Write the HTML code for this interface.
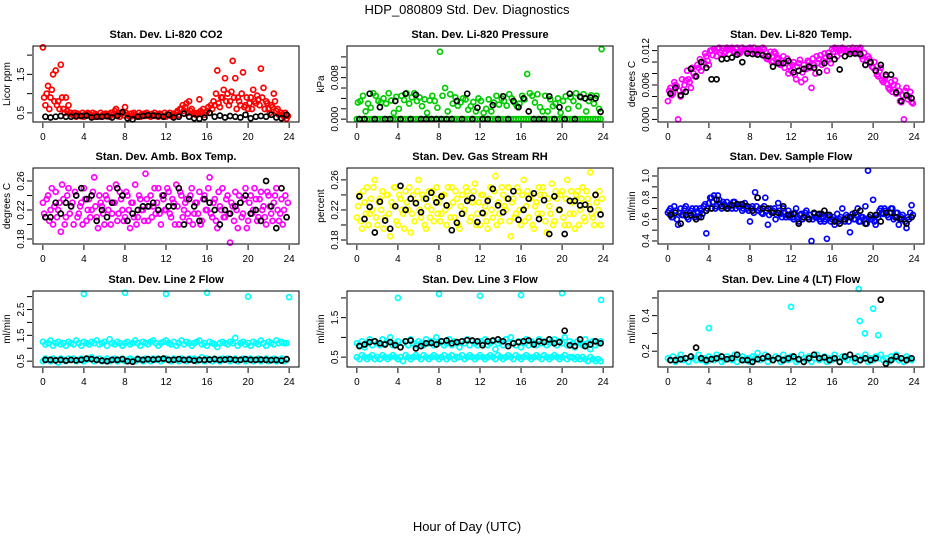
<!DOCTYPE html>
<html><head><meta charset="utf-8"><title>HDP_080809 Std. Dev. Diagnostics</title>
<style>
html,body{margin:0;padding:0;background:#fff;}
svg{display:block;font-family:"Liberation Sans",Arial,sans-serif;}
</style></head>
<body>
<svg id="chart" width="936" height="540" viewBox="0 0 936 540">
<rect width="936" height="540" fill="#fff"/>
<text x="467" y="14" text-anchor="middle" font-size="13">HDP_080809  Std. Dev. Diagnostics</text>
<text x="467" y="531" text-anchor="middle" font-size="13">Hour of Day (UTC)</text>
<g id="panels"></g>
</svg>
<script>
// ---- x tick labels (hours) ----
const hourTicks = [0,4,8,12,16,20,24];

// ---- Panel 1: Li-820 CO2 (ppm) ----
const co2Red = [2.2,0.7,1.2,0.9,1.5,1.6,0.8,1.75,0.6,0.9,0.7,0.5,
0.45,0.4,0.45,0.42,0.4,0.45,0.48,0.42,0.4,0.44,0.4,0.43,
0.42,0.45,0.4,0.5,0.55,0.45,0.4,0.5,0.65,0.45,0.4,0.42,
0.45,0.42,0.4,0.44,0.42,0.45,0.4,0.43,0.42,0.4,0.45,0.42,
0.4,0.45,0.42,0.48,0.5,0.45,0.6,0.55,0.75,0.8,0.6,0.5,
0.45,0.85,0.5,0.45,0.55,0.5,0.6,0.7,1.6,0.65,0.9,1.4,
1.0,0.8,1.85,1.4,0.9,0.7,1.55,0.7,0.6,0.9,1.1,0.75,
0.85,1.65,1.15,0.8,0.6,0.7,1.0,0.55,0.45,0.5,0.4,0.35];
const co2Red2 = [0.9,1.0,0.6,1.1,0.8,0.7,0.6,0.9,0.5,0.55,0.5,0.45,
0.5,0.48,0.42,0.5,0.46,0.5,0.44,0.5,0.47,0.42,0.5,0.45,
0.48,0.42,0.5,0.46,0.6,0.5,0.48,0.44,0.5,0.42,0.48,0.5,
0.42,0.5,0.46,0.48,0.5,0.42,0.47,0.5,0.45,0.48,0.42,0.5,
0.46,0.5,0.44,0.42,0.55,0.6,0.7,0.65,0.5,0.55,0.48,0.45,
0.5,0.55,0.6,0.5,0.65,0.7,0.8,1.0,0.75,0.9,1.1,0.8,
0.7,1.05,0.9,0.6,0.8,1.0,0.65,0.9,0.75,0.6,0.8,0.95,
0.7,0.9,0.6,0.75,0.5,0.65,0.8,0.6,0.5,0.45,0.5,0.42];
const co2Black = [0.4,0.38,0.4,0.42,0.4,0.4,0.42,0.42,0.43,0.38,0.4,0.4,0.41,0.38,0.42,0.52,0.36,0.33,0.4,0.42,0.44,0.43,0.42,0.4,0.45,0.38,0.4,0.48,0.4,0.36,0.35,0.38,0.5,0.4,0.43,0.38,0.42,0.4,0.38,0.45,0.36,0.4,0.42,0.4,0.45,0.38,0.36,0.45];
const co2Ticks = [0.5,1.0,1.5,2.0];
const co2Labels = ["0.5","","1.5",""];

// ---- Panel 2: Li-820 Pressure (kPa x 0.001) ----
const presGreen = [3.2,3.5,4.5,1.5,3,2.2,5,4.5,3.5,3.2,4,3,
5,3.6,1.2,4.3,2,4.5,3.7,5,3,4.2,5,3.5,
4.2,2.5,3.8,1.2,3.6,4.5,3.5,2.2,13,4.5,6,1.5,
4.8,3,4.2,2.6,3.2,4,3.8,1.8,2.5,3.3,1.5,4,
3.5,1.2,2,3.8,1.5,3.2,4.5,2.8,4,3.5,2.6,4.8,
4,3.2,2.5,3,4.5,3.8,8.7,5,4.5,3.2,4.8,2.3,
1.5,4.5,1.5,3.8,2.5,3,4,1.2,3.5,4.4,2,4.2,
3.5,5,2.5,4.2,4.8,1.5,3.5,4.6,3,4.5,2,13.5];
const presGreenZero = [0,0,0,0,0,0,0,0,0,0,0,0,0,0,0,0,0,0,0,0,0,0,0,0,0,0,0,0,0,0,0,0,0,0,0,0,0,0,0,0,0,0,0,0,0,0,0,0,0,0,0,0,0,0,0,0,0,0,0,0,0,0,0,0,0,0,0,0,0,0,0,0,0,0,0,0,0,0,0,0,0,0,0,0,0,0,0,0,0,0,0,0,0,0,0,0];
const presBlack = [0,0,4.9,0,2.3,0,0,3.5,0,4.9,0,4.7,0,0,0,0,0,0,0,3.5,0,4.9,0,2.2,0,0,2.7,0,4.4,0,3.5,2.3,4,1.5,0,0,0,4.4,0,2.3,0,4.9,0,4.3,4,4.2,4,1.4];
const presTicks = [0,2,4,6,8,10,12];
const presLabels = ["0.000","","","","0.008","",""];

// ---- Panel 3: Li-820 Temp (degC x 0.001) ----
const tempPink = [3.2,5.5,4.5,6,0,4,5.2,6.8,7,5.5,8,7.5,
9,8.5,10,11,9.5,12,12.3,11,12.5,12,11.5,12.5,
12.3,12.5,11.8,12.5,11.5,12.5,12.2,11.8,12.5,12,11.5,12.3,
12,12.5,11,10.5,11.8,10.2,11.5,10.5,9.5,11,9.8,8,
8.5,10,7,9.8,6.5,9.5,8.8,10,5.5,9.5,11,10.5,
9.5,11.5,8.5,10.5,12.2,12.5,11,12,12.5,12.3,12,11.8,
12.5,12,11.5,12.5,10.5,9.5,11,9.8,9,8.5,7.5,9,
6.5,7.5,5.5,6.5,6,4.5,5,3,0,5.5,4,3];
const tempPink2 = [5,4.2,6.5,5.8,5,7,6,8.5,6.5,9,7.5,9.5,
10.5,9.2,11.5,10.2,12,11.2,12,12.3,11.6,12.4,11.8,12.2,
12.4,11.9,12.3,11.6,12.4,12.1,11.9,12.4,12.2,12.5,11.8,12.1,
11.5,12.2,10.6,11.2,10,11.8,10.8,9.6,10.2,9,10.6,9.2,
9.5,7.8,9.2,10.4,8.2,7,10.2,9,10.6,8,9.8,11.2,
10.2,10.8,11.6,9.8,11.8,12.3,12.4,11.5,12.2,11.9,12.4,12.1,
11.8,12.4,12.2,11,11.6,10.2,10.6,9.2,10,7.8,8.4,6.8,
7,6.2,5.2,4.8,6.8,5.8,3.2,4.2,5,3.5,4.8,2.8];
const tempBlack = [4.5,5.5,4.2,4.8,8.8,7.5,10,9,7,7,10.5,10.6,10.8,11.3,10,11.5,11.4,11.3,11.2,11,9.2,9.8,9.8,10.2,8.2,8.5,8.8,9.2,9,8.2,9.8,11,10.5,8.7,11,11.4,11.5,11.4,9.5,10,8.5,9.5,7.8,7.8,4.7,3.2,4.2,3.7];
const tempTicks = [0,2,4,6,8,10,12];
const tempLabels = ["0.000","","","0.006","","","0.012"];

// ---- Panel 4: Amb. Box Temp (degC) ----
const boxPink = [0.23,0.21,0.24,0.22,0.20,0.245,0.22,0.19,0.235,0.21,0.25,0.225,
0.20,0.24,0.215,0.23,0.25,0.205,0.235,0.22,0.265,0.21,0.24,0.225,
0.20,0.235,0.25,0.215,0.23,0.205,0.245,0.22,0.21,0.24,0.195,0.23,
0.255,0.21,0.235,0.22,0.27,0.205,0.24,0.225,0.215,0.25,0.20,0.235,
0.22,0.245,0.21,0.23,0.255,0.20,0.24,0.22,0.235,0.205,0.25,0.215,
0.23,0.245,0.205,0.24,0.22,0.265,0.21,0.235,0.195,0.225,0.25,0.21,
0.24,0.175,0.225,0.245,0.195,0.23,0.215,0.25,0.205,0.24,0.22,0.235,
0.21,0.245,0.225,0.20,0.24,0.215,0.23,0.25,0.205,0.235,0.22,0.21];
const boxPink2 = [0.215,0.235,0.205,0.25,0.225,0.21,0.23,0.255,0.2,0.24,0.215,0.23,
0.245,0.21,0.225,0.2,0.235,0.22,0.21,0.245,0.225,0.195,0.23,0.215,
0.24,0.22,0.2,0.23,0.255,0.215,0.235,0.205,0.245,0.22,0.23,0.21,
0.2,0.24,0.22,0.205,0.235,0.225,0.21,0.25,0.23,0.215,0.24,0.22,
0.25,0.215,0.235,0.2,0.225,0.245,0.21,0.23,0.215,0.24,0.2,0.23,
0.215,0.2,0.235,0.22,0.25,0.215,0.23,0.205,0.245,0.22,0.21,0.235,
0.215,0.23,0.205,0.22,0.24,0.21,0.235,0.195,0.23,0.215,0.25,0.205,
0.235,0.22,0.21,0.245,0.225,0.205,0.24,0.22,0.215,0.2,0.24,0.23];
const boxBlack = [0.21,0.21,0.23,0.215,0.23,0.225,0.24,0.25,0.235,0.24,0.205,0.22,0.21,0.23,0.25,0.24,0.205,0.215,0.22,0.225,0.225,0.23,0.22,0.24,0.225,0.225,0.25,0.20,0.235,0.225,0.205,0.235,0.23,0.22,0.20,0.22,0.215,0.225,0.23,0.24,0.215,0.22,0.205,0.26,0.225,0.195,0.25,0.21];
const boxTicks = [0.18,0.20,0.22,0.24,0.26];
const boxLabels = ["0.18","","0.22","","0.26"];

// ---- Panel 5: Gas Stream RH (percent) ----
const rhYellow = [0.21,0.24,0.195,0.23,0.25,0.215,0.22,0.26,0.20,0.235,0.245,0.21,
0.24,0.185,0.225,0.25,0.20,0.235,0.215,0.245,0.22,0.19,0.24,0.23,
0.26,0.21,0.235,0.195,0.245,0.22,0.205,0.25,0.23,0.215,0.24,0.20,
0.225,0.25,0.21,0.235,0.195,0.24,0.22,0.245,0.205,0.23,0.255,0.215,
0.20,0.24,0.225,0.195,0.25,0.21,0.265,0.23,0.205,0.24,0.22,0.25,
0.185,0.235,0.215,0.245,0.20,0.26,0.225,0.21,0.24,0.195,0.23,0.25,
0.215,0.24,0.19,0.225,0.255,0.205,0.235,0.22,0.245,0.20,0.26,0.215,
0.23,0.195,0.245,0.22,0.25,0.205,0.235,0.27,0.21,0.24,0.22,0.20];
const rhYellow2 = [0.225,0.205,0.245,0.215,0.2,0.235,0.25,0.21,0.23,0.22,0.195,0.24,
0.215,0.23,0.25,0.205,0.24,0.22,0.195,0.23,0.25,0.215,0.205,0.245,
0.22,0.24,0.2,0.225,0.21,0.245,0.235,0.215,0.205,0.24,0.22,0.25,
0.21,0.23,0.245,0.2,0.225,0.215,0.25,0.235,0.21,0.245,0.2,0.23,
0.24,0.215,0.205,0.235,0.22,0.245,0.2,0.215,0.25,0.225,0.235,0.205,
0.23,0.21,0.25,0.22,0.24,0.205,0.245,0.235,0.2,0.225,0.215,0.24,
0.25,0.205,0.235,0.215,0.2,0.245,0.22,0.24,0.21,0.235,0.2,0.245,
0.215,0.24,0.2,0.235,0.21,0.245,0.225,0.215,0.2,0.23,0.245,0.235];
const rhBlack = [0.238,0.208,0.224,0.190,0.231,0.206,0.195,0.225,0.252,0.220,0.235,0.229,0.217,0.235,0.243,0.230,0.238,0.226,0.193,0.203,0.215,0.232,0.236,0.204,0.216,0.232,0.248,0.226,0.217,0.235,0.245,0.207,0.220,0.235,0.242,0.208,0.233,0.188,0.238,0.220,0.188,0.232,0.232,0.226,0.227,0.221,0.240,0.214];
const rhTicks = [0.18,0.20,0.22,0.24,0.26];
const rhLabels = ["0.18","","0.22","","0.26"];

// ---- Panel 6: Sample Flow (ml/min) ----
const sfBlue = [0.66,0.7,0.62,0.68,0.55,0.7,0.64,0.72,0.6,0.68,0.65,0.7,
0.62,0.68,0.72,0.47,0.75,0.8,0.82,0.72,0.78,0.7,0.74,0.76,
0.72,0.7,0.76,0.74,0.72,0.68,0.75,0.7,0.58,0.72,0.85,0.8,
0.7,0.65,0.8,0.55,0.7,0.68,0.6,0.75,0.65,0.7,0.62,0.68,
0.65,0.6,0.7,0.58,0.65,0.62,0.68,0.6,0.4,0.65,0.62,0.6,
0.65,0.58,0.42,0.62,0.6,0.55,0.65,0.6,0.7,0.58,0.62,0.48,
0.65,0.6,0.7,0.58,0.62,0.72,1.05,0.6,0.78,0.55,0.62,0.7,
0.65,0.68,0.62,0.7,0.6,0.66,0.55,0.62,0.6,0.52,0.6,0.73];
const sfBlue2 = [0.68,0.62,0.72,0.6,0.66,0.64,0.7,0.62,0.66,0.7,0.62,0.67,
0.7,0.65,0.74,0.7,0.8,0.76,0.7,0.82,0.74,0.76,0.72,0.7,
0.74,0.76,0.7,0.72,0.74,0.7,0.72,0.68,0.7,0.66,0.72,0.68,
0.66,0.72,0.68,0.64,0.66,0.7,0.64,0.68,0.62,0.66,0.64,0.62,
0.62,0.66,0.6,0.64,0.6,0.66,0.62,0.64,0.6,0.62,0.64,0.58,
0.62,0.6,0.64,0.58,0.62,0.6,0.58,0.62,0.6,0.64,0.58,0.62,
0.6,0.64,0.58,0.62,0.6,0.56,0.62,0.6,0.58,0.64,0.68,0.66,
0.7,0.64,0.66,0.7,0.62,0.66,0.6,0.64,0.58,0.62,0.66,0.64];
const sfBlack = [0.64,0.66,0.56,0.64,0.64,0.6,0.62,0.68,0.7,0.78,0.72,0.7,0.73,0.74,0.74,0.72,0.68,0.8,0.7,0.7,0.66,0.66,0.72,0.64,0.65,0.56,0.62,0.6,0.66,0.65,0.68,0.64,0.58,0.56,0.6,0.62,0.66,0.68,0.56,0.64,0.64,0.58,0.66,0.66,0.62,0.6,0.56,0.62];
const sfTicks = [0.4,0.5,0.6,0.7,0.8,0.9,1.0];
const sfLabels = ["0.4","","0.6","","0.8","","1.0"];

// ---- Panel 7: Line 2 Flow ----
const l2Upper = [1.25,1.15,1.2,1.3,1.1,1.2,1.25,1.15,1.2,1.1,1.25,1.2,
1.15,1.3,1.2,1.1,1.25,1.2,1.15,1.25,1.2,1.3,1.15,1.2,
1.25,1.1,1.35,1.2,1.15,1.25,1.2,1.1,1.2,1.25,1.15,1.2,
1.3,1.2,1.1,1.25,1.2,1.15,1.25,1.3,1.2,1.1,1.2,1.25,
1.3,1.2,1.15,1.25,1.1,1.2,1.3,1.15,1.25,1.2,1.1,1.2,
1.25,1.3,1.15,1.2,1.1,1.25,1.2,1.15,1.05,1.2,1.25,1.2,
1.15,1.25,1.2,1.4,1.1,1.2,1.25,1.15,1.2,1.1,1.25,1.2,
1.15,1.3,1.2,1.1,1.25,1.2,1.15,1.3,1.2,1.25,1.2,1.2];
const l2Lower = [0.5,0.6,0.55,0.5,0.6,0.55,0.45,0.6,0.55,0.5,0.6,0.55,
0.6,0.5,0.55,0.6,0.5,0.55,0.6,0.65,0.5,0.55,0.6,0.5,
0.55,0.6,0.5,0.55,0.6,0.5,0.55,0.6,0.5,0.55,0.6,0.55,
0.5,0.6,0.55,0.5,0.6,0.55,0.5,0.6,0.55,0.6,0.5,0.55,
0.6,0.55,0.5,0.6,0.55,0.5,0.6,0.55,0.5,0.6,0.55,0.6,
0.5,0.55,0.65,0.5,0.6,0.55,0.5,0.6,0.55,0.5,0.6,0.55,
0.6,0.5,0.55,0.6,0.5,0.55,0.6,0.5,0.55,0.6,0.5,0.55,
0.6,0.5,0.55,0.6,0.5,0.55,0.6,0.5,0.55,0.6,0.5,0.55];
const l2OutT = [4,8,12,16,20,24];
const l2OutV = [3.1,3.15,3.1,3.15,3.0,2.98];
const l2Black = [0.55,0.55,0.53,0.55,0.52,0.55,0.53,0.55,0.6,0.58,0.55,0.52,0.5,0.55,0.55,0.58,0.5,0.48,0.58,0.55,0.58,0.56,0.58,0.6,0.55,0.55,0.58,0.55,0.56,0.52,0.55,0.55,0.56,0.58,0.55,0.56,0.58,0.55,0.55,0.58,0.55,0.55,0.56,0.55,0.54,0.55,0.52,0.58];
const l2Ticks = [0.5,1.0,1.5,2.0,2.5,3.0];
const l2Labels = ["0.5","","1.5","","2.5",""];

// ---- Panel 8: Line 3 Flow ----
const l3Upper = [0.85,0.8,0.9,0.75,0.85,0.95,0.8,0.9,0.85,0.8,0.95,0.85,
0.9,1.0,0.8,0.85,0.9,0.75,0.85,0.9,0.8,0.95,0.85,0.8,
0.9,0.85,0.8,0.95,0.85,0.9,0.8,1.0,0.85,0.9,0.8,0.85,
0.95,0.8,0.9,0.85,0.75,0.9,0.85,0.95,0.8,0.9,0.85,0.8,
0.9,0.85,0.95,0.8,0.85,0.9,0.7,0.85,0.9,0.8,0.95,0.85,
1.0,0.85,0.8,0.9,0.75,0.85,0.95,0.8,0.9,0.85,0.8,0.95,
0.85,0.9,0.8,0.85,0.9,0.95,0.8,0.9,0.85,1.0,0.8,0.9,
0.85,0.75,0.9,0.85,0.8,0.95,0.85,0.7,0.9,0.8,0.85,0.9];
const l3Lower = [0.5,0.45,0.55,0.5,0.45,0.5,0.55,0.45,0.5,0.45,0.55,0.5,
0.45,0.5,0.55,0.5,0.45,0.5,0.4,0.55,0.5,0.45,0.5,0.55,
0.5,0.45,0.55,0.5,0.45,0.5,0.55,0.5,0.45,0.5,0.55,0.45,
0.5,0.55,0.45,0.5,0.5,0.55,0.45,0.5,0.55,0.5,0.45,0.5,
0.55,0.5,0.45,0.5,0.55,0.5,0.45,0.55,0.5,0.45,0.5,0.55,
0.5,0.45,0.55,0.5,0.45,0.5,0.55,0.5,0.45,0.5,0.55,0.5,
0.45,0.55,0.5,0.45,0.5,0.55,0.5,0.45,0.5,0.55,0.45,0.5,
0.5,0.45,0.5,0.45,0.5,0.45,0.4,0.5,0.45,0.4,0.45,0.4];
const l3OutT = [4,8,12,16,20,23.8];
const l3OutV = [2.0,2.1,2.05,2.07,2.12,1.95];
const l3Black = [0.78,0.82,0.88,0.9,0.85,0.82,0.88,0.8,0.75,0.9,0.92,0.72,0.78,0.85,0.86,0.82,0.9,0.92,0.85,0.88,0.9,0.93,0.92,0.9,0.8,0.9,0.92,0.95,0.9,0.78,0.85,0.88,0.9,0.92,0.82,0.9,0.88,0.95,0.85,0.88,1.17,0.8,0.78,0.95,0.78,0.82,0.9,0.85];
const l3Ticks = [0.5,1.0,1.5,2.0];
const l3Labels = ["0.5","","1.5",""];

// ---- Panel 9: Line 4 (LT) Flow ----
const l4Cyan = [0.16,0.15,0.17,0.14,0.16,0.18,0.15,0.16,0.14,0.17,0.16,0.15,
0.18,0.15,0.16,0.14,0.17,0.16,0.15,0.18,0.16,0.14,0.15,0.17,
0.16,0.15,0.18,0.14,0.16,0.17,0.15,0.16,0.14,0.17,0.16,0.19,
0.15,0.16,0.18,0.14,0.16,0.15,0.17,0.16,0.14,0.18,0.16,0.15,
0.17,0.16,0.14,0.15,0.18,0.16,0.15,0.17,0.14,0.16,0.18,0.15,
0.16,0.17,0.14,0.16,0.15,0.18,0.16,0.14,0.17,0.16,0.15,0.18,
0.16,0.14,0.17,0.15,0.16,0.18,0.14,0.16,0.15,0.17,0.16,0.18,
0.15,0.16,0.14,0.17,0.16,0.18,0.15,0.16,0.14,0.17,0.16,0.15];
const l4OutT = [4,12,18.6,18.7,19.2,20,20.5];
const l4OutV = [0.33,0.45,0.55,0.37,0.3,0.44,0.29];
const l4Black = [0.15,0.15,0.155,0.16,0.17,0.22,0.16,0.15,0.155,0.16,0.17,0.155,0.16,0.18,0.15,0.15,0.14,0.155,0.16,0.17,0.15,0.16,0.15,0.16,0.17,0.155,0.14,0.16,0.18,0.16,0.165,0.15,0.16,0.14,0.17,0.18,0.16,0.15,0.16,0.15,0.16,0.49,0.13,0.15,0.17,0.16,0.15,0.16];
const l4Ticks = [0.2,0.3,0.4,0.5];
const l4Labels = ["0.2","","0.4",""];

// ---- layout ----
const SVGNS = "http://www.w3.org/2000/svg";
const colLeft = [33,347,658], colW = 266;
const rowTop = [46,168,291], rowH = 76;
const X0 = -0.96, X1 = 24.96;

function mk(tag, attrs, parent){
  const e = document.createElementNS(SVGNS, tag);
  for (const k in attrs) e.setAttribute(k, attrs[k]);
  parent.appendChild(e);
  return e;
}

const panels = [
 {name:"co2", title:"Stan. Dev. Li-820 CO2", ylab:"Licor ppm", col:0,row:0, y0:0.263,y1:2.237, ticks:co2Ticks, labels:co2Labels,
  series:[{v:co2Red,c:"#ff0000",step:0.25,off:0},{v:co2Red2,c:"#ff0000",step:0.25,off:0.125},{v:co2Black,c:"#000",step:0.5,off:0.25}]},
 {name:"pressure", title:"Stan. Dev. Li-820 Pressure", ylab:"kPa", col:1,row:0, y0:-0.55,y1:14.1, ticks:presTicks, labels:presLabels,
  series:[{v:presGreenZero,c:"#00cc00",step:0.25,off:0},{v:presGreen,c:"#00cc00",step:0.25,off:0.1},{v:presBlack,c:"#000",step:0.5,off:0.25}]},
 {name:"li820-temp", title:"Stan. Dev. Li-820 Temp.", ylab:"degrees C", col:2,row:0, y0:-0.45,y1:12.8, ticks:tempTicks, labels:tempLabels,
  series:[{v:tempPink,c:"#ff00ff",step:0.25,off:0},{v:tempPink2,c:"#ff00ff",step:0.25,off:0.125},{v:tempBlack,c:"#000",step:0.5,off:0.25}]},
 {name:"box-temp", title:"Stan. Dev. Amb. Box Temp.", ylab:"degrees C", col:0,row:1, y0:0.1731,y1:0.2779, ticks:boxTicks, labels:boxLabels,
  series:[{v:boxPink,c:"#ff00ff",step:0.25,off:0},{v:boxPink2,c:"#ff00ff",step:0.25,off:0.125},{v:boxBlack,c:"#000",step:0.5,off:0.25}]},
 {name:"rh", title:"Stan. Dev. Gas Stream RH", ylab:"percent", col:1,row:1, y0:0.1747,y1:0.2758, ticks:rhTicks, labels:rhLabels,
  series:[{v:rhYellow,c:"#ffff00",step:0.25,off:0},{v:rhYellow2,c:"#ffff00",step:0.25,off:0.125},{v:rhBlack,c:"#000",step:0.5,off:0.25}]},
 {name:"sample-flow", title:"Stan. Dev. Sample Flow", ylab:"ml/min", col:2,row:1, y0:0.372,y1:1.074, ticks:sfTicks, labels:sfLabels,
  series:[{v:sfBlue,c:"#0000ff",step:0.25,off:0},{v:sfBlue2,c:"#0000ff",step:0.25,off:0.125},{v:sfBlack,c:"#000",step:0.5,off:0.25}]},
 {name:"line2-flow", title:"Stan. Dev. Line 2 Flow", ylab:"ml/min", col:0,row:2, y0:0.274,y1:3.217, ticks:l2Ticks, labels:l2Labels,
  series:[{v:l2Upper,c:"#00ffff",step:0.25,off:0},{v:l2Lower,c:"#00ffff",step:0.25,off:0},{v:l2OutV,t:l2OutT,c:"#00ffff"},{v:l2Black,c:"#000",step:0.5,off:0.25}]},
 {name:"line3-flow", title:"Stan. Dev. Line 3 Flow", ylab:"ml/min", col:1,row:2, y0:0.25,y1:2.175, ticks:l3Ticks, labels:l3Labels,
  series:[{v:l3Upper,c:"#00ffff",step:0.25,off:0},{v:l3Lower,c:"#00ffff",step:0.25,off:0},{v:l3OutV,t:l3OutT,c:"#00ffff"},{v:l3Black,c:"#000",step:0.5,off:0.25}]},
 {name:"line4-flow", title:"Stan. Dev. Line 4 (LT) Flow", ylab:"ml/min", col:2,row:2, y0:0.111,y1:0.539, ticks:l4Ticks, labels:l4Labels,
  series:[{v:l4Cyan,c:"#00ffff",step:0.25,off:0},{v:l4OutV,t:l4OutT,c:"#00ffff"},{v:l4Black,c:"#000",step:0.5,off:0.25}]}
];

const root = document.getElementById("panels");
panels.forEach(p => {
  const L = colLeft[p.col], T = rowTop[p.row], R = L + colW, B = T + rowH;
  const xs = h => L + (h - X0) / (X1 - X0) * colW;
  const ys = v => B - (v - p.y0) / (p.y1 - p.y0) * rowH;
  const g = mk("g", {}, root);
  
  

  const t = mk("text", {x:(L+R)/2, y:T-8, "text-anchor":"middle", "font-size":"11", "font-weight":"bold"}, g);
  t.textContent = p.title;
  
  

  const pg = mk("g", {fill:"none", "stroke-width":"1.7"}, g);
  
  
  p.series.forEach(s => {
    s.v.forEach((v, i) => {
      const h = s.t ? s.t[i] : s.off + i * s.step;
      const c = mk("circle", {cx:xs(h).toFixed(1), cy:ys(v).toFixed(1), r:"2.5", stroke:s.c}, pg);
      
      
    });
  });

  const box = mk("rect", {x:L, y:T, width:colW, height:rowH, fill:"none", stroke:"#000", "stroke-width":"1"}, g);
  
  

  const xa = mk("g", {}, g);
  
  
  hourTicks.forEach(h => {
    const x = xs(h);
    mk("line", {x1:x, x2:x, y1:B+1, y2:B+6, stroke:"#000"}, xa);
    const tl = mk("text", {x:x, y:B+18, "text-anchor":"middle", "font-size":"10"}, xa);
    tl.textContent = String(h);
    
    
  });

  const ya = mk("g", {}, g);
  
  
  p.ticks.forEach((v, i) => {
    const y = ys(v);
    mk("line", {x1:L-6, x2:L-1, y1:y, y2:y, stroke:"#000"}, ya);
    if (p.labels[i]) {
      const tl = mk("text", {x:L-9, y:y, "text-anchor":"middle", "font-size":"10", transform:`rotate(-90 ${L-9} ${y})`}, ya);
      tl.textContent = p.labels[i];
      
      
    }
  });
  const yt = mk("text", {x:L-23, y:(T+B)/2, "text-anchor":"middle", "font-size":"10", transform:`rotate(-90 ${L-23} ${(T+B)/2})`}, ya);
  yt.textContent = p.ylab;
  
  
});
</script>
</body></html>
